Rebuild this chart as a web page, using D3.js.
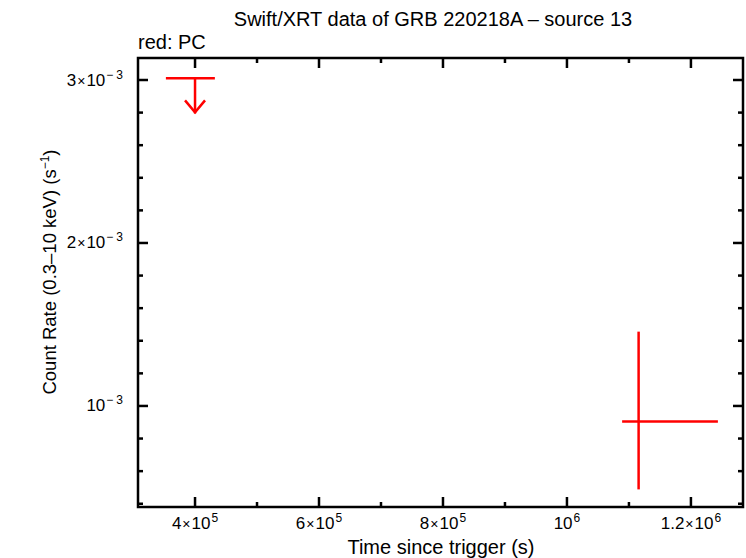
<!DOCTYPE html>
<html><head><meta charset="utf-8">
<script src="https://cdn.jsdelivr.net/npm/d3@7"></script>
<style>body{margin:0;background:#fff}svg{display:block}text{font-family:"Liberation Sans",Arial,sans-serif}</style>
</head><body><svg id="c" width="746" height="558"></svg>
<script>
const title = "Swift/XRT data of GRB 220218A \u2013 source 13";
const legendLabel = "red: PC";
const xLabel = "Time since trigger (s)";
// detections: time, time err low, time err high, rate, rate err low, rate err high
const detTime = [1.1156e6];
const detTimeLo = [1.089e6];
const detTimeHi = [1.2435e6];
const detRate = [0.904e-3];
const detRateLo = [0.488e-3];
const detRateHi = [1.456e-3];
// upper limits
const ulTime = [4.0e5];
const ulTimeLo = [3.53e5];
const ulTimeHi = [4.32e5];
const ulRate = [3.01e-3];
const xMajorTicks = [4e5, 6e5, 8e5, 1e6, 1.2e6];
const xTickMant = ["4", "6", "8", "", "1.2"];
const xTickExp = ["5", "5", "5", "6", "6"];
const xMinorTicks = [4e5,5e5,6e5,7e5,8e5,9e5,1e6,1.1e6,1.2e6];
const yMajorTicks = [1e-3, 2e-3, 3e-3];
const yTickMant = ["", "2", "3"];
const yTickExp = ["\u22123", "\u22123", "\u22123"];
const yMinorTicks = [0.4e-3,0.6e-3,0.8e-3,1e-3,1.2e-3,1.4e-3,1.6e-3,1.8e-3,2e-3,2.2e-3,2.4e-3,2.6e-3,2.8e-3,3e-3];

const svg = d3.select("#c");
const L = 138, R = 743, T = 58, B = 507;
const x = d3.scaleLinear().domain([3.08e5, 12.84e5]).range([L, R]);
const y = d3.scaleLinear().domain([0.380e-3, 3.135e-3]).range([B, T]);
const red = "#ff0000";

// ticks
const g = svg.append("g").attr("stroke", "#000");
const maj = 10, mnr = 5;
xMinorTicks.forEach(v => {
  const isMaj = xMajorTicks.some(m => Math.abs(m - v) < 1);
  const len = isMaj ? maj : mnr;
  g.append("line").attr("x1", x(v)).attr("x2", x(v)).attr("y1", B).attr("y2", B - len).attr("stroke-width", 2.5);
  g.append("line").attr("x1", x(v)).attr("x2", x(v)).attr("y1", T).attr("y2", T + len).attr("stroke-width", 2.5);
});
yMinorTicks.forEach(v => {
  const isMaj = yMajorTicks.some(m => Math.abs(m - v) < 1e-9);
  const len = isMaj ? maj : mnr;
  g.append("line").attr("y1", y(v)).attr("y2", y(v)).attr("x1", L).attr("x2", L + len).attr("stroke-width", 2.5);
  g.append("line").attr("y1", y(v)).attr("y2", y(v)).attr("x1", R).attr("x2", R - len).attr("stroke-width", 2.5);
});
svg.append("rect").attr("x", L).attr("y", T).attr("width", R - L).attr("height", B - T)
  .attr("fill", "none").attr("stroke", "#000").attr("stroke-width", 2.5);

// tick labels
function sciLabel(sel, mant, exp) {
  if (mant) {
    sel.append("tspan").text(mant);
    sel.append("tspan").text("\u00d7").attr("font-size", 14).attr("dx", 1);
  }
  sel.append("tspan").text("10").attr("dx", mant ? 1 : 0);
  const chars = Array.from(exp);
  chars.forEach((c, k) => {
    sel.append("tspan").text(c).attr("font-size", 12)
      .attr("dx", k === 0 ? 1 : 3).attr("dy", k === 0 ? -7 : 0);
  });
}
xMajorTicks.forEach((v, i) => {
  const t = svg.append("text").attr("x", x(v)).attr("y", 528.5).attr("text-anchor", "middle").attr("font-size", 17);
  sciLabel(t, xTickMant[i], xTickExp[i]);
});
yMajorTicks.forEach((v, i) => {
  const t = svg.append("text").attr("x", 123).attr("y", y(v) + 5.5).attr("text-anchor", "end").attr("font-size", 17);
  sciLabel(t, yTickMant[i], yTickExp[i]);
});

// titles
svg.append("text").attr("x", 433).attr("y", 26).attr("text-anchor", "middle").attr("font-size", 20).text(title);
svg.append("text").attr("x", 138).attr("y", 49).attr("font-size", 20).text(legendLabel);
svg.append("text").attr("x", 441).attr("y", 554).attr("text-anchor", "middle").attr("font-size", 20).text(xLabel);
const yl = svg.append("text").attr("transform", "translate(56,272) rotate(-90)").attr("text-anchor", "middle").attr("font-size", 18.5);
yl.append("tspan").text("Count Rate (0.3\u201310 keV) (s");
yl.append("tspan").text("\u22121").attr("font-size", 12).attr("dy", -7);
yl.append("tspan").text(")").attr("font-size", 18.5).attr("dy", 7);

// data
const d = svg.append("g").attr("stroke", red).attr("stroke-width", 2.5).attr("fill", "none");
detTime.forEach((t, i) => {
  d.append("line").attr("x1", x(detTimeLo[i])).attr("x2", x(detTimeHi[i])).attr("y1", y(detRate[i])).attr("y2", y(detRate[i]));
  d.append("line").attr("x1", x(t)).attr("x2", x(t)).attr("y1", y(detRateLo[i])).attr("y2", y(detRateHi[i]));
});
ulTime.forEach((t, i) => {
  const yy = y(ulRate[i]);
  d.append("line").attr("x1", x(ulTimeLo[i])).attr("x2", x(ulTimeHi[i])).attr("y1", yy).attr("y2", yy);
  d.append("line").attr("x1", x(t)).attr("x2", x(t)).attr("y1", yy).attr("y2", yy + 35);
  d.append("path").attr("d", `M${x(t) - 10},${yy + 22} L${x(t)},${yy + 34} L${x(t) + 10},${yy + 22}`);
});
</script></body></html>
